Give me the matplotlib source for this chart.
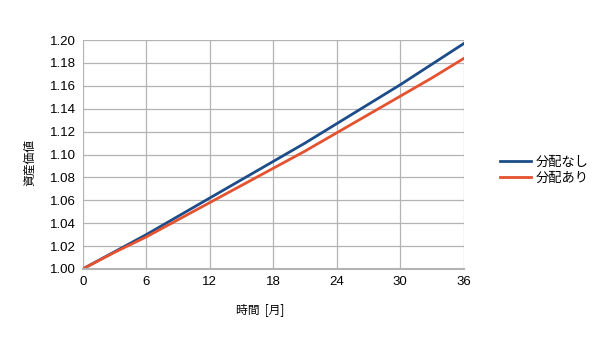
import matplotlib
matplotlib.use("Agg")
from matplotlib import pyplot as plt

plt.rcParams['font.family'] = ['Liberation Sans', 'Noto Sans CJK JP', 'DejaVu Sans']

months = [0, 3, 6, 9, 12, 15, 18, 21, 24, 27, 30, 33, 36]
no_dist = [1.000, 1.015, 1.030, 1.046, 1.062, 1.078, 1.094, 1.110, 1.127, 1.144, 1.161, 1.179, 1.197]
with_dist = [1.000, 1.0145, 1.028, 1.043, 1.058, 1.073, 1.088, 1.103, 1.119, 1.135, 1.151, 1.167, 1.184]
labels = ['分配なし', '分配あり']

fig = plt.figure(figsize=(6, 3.37), dpi=100)
ax = fig.add_axes([0.138, 0.202, 0.635, 0.679])

ax.plot(months, no_dist, color='#1c4d8a', lw=2, label=labels[0])
ax.plot(months, with_dist, color='#e4522f', lw=2, label=labels[1])

ax.set_xlim(0, 36)
ax.set_ylim(1.0, 1.2)
ax.set_xticks(range(0, 37, 6))
ax.set_yticks([1.0 + 0.02 * i for i in range(11)])
ax.yaxis.set_major_formatter(matplotlib.ticker.FormatStrFormatter('%.2f'))
ax.grid(True, color='#b3b3b3', lw=0.9)
ax.set_axisbelow(True)
for s in ['top', 'right', 'left']:
    ax.spines[s].set_visible(False)
ax.spines['bottom'].set_color('#b3b3b3')
ax.spines['bottom'].set_linewidth(1.5)
ax.tick_params(length=0, labelsize=9.5, pad=5)

ax.set_xlabel('時間  [月]', fontsize=8.5, family=['Noto Sans CJK JP'])
ax.xaxis.set_label_coords(0.465, -0.15)
ax.set_ylabel('資産価値', fontsize=8.5, family=['Noto Sans CJK JP'])
ax.yaxis.set_label_coords(-0.123, 0.463)

ax.legend(loc='center left', bbox_to_anchor=(1.094, 0.432), frameon=False,
          prop={'family': ['Noto Sans CJK JP'], 'size': 9.5},
          borderpad=0, borderaxespad=0,
          handlelength=2.4, handletextpad=0.35, labelspacing=0.2)

fig.savefig('out.png', dpi=100, facecolor='white')
